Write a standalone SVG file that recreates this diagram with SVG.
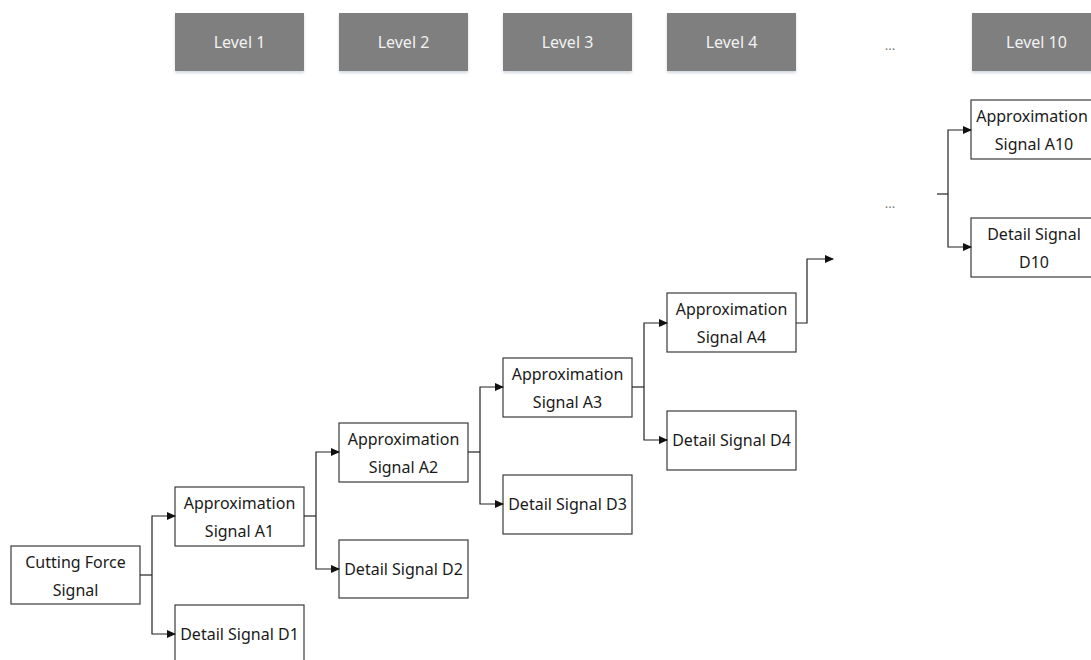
<svg xmlns="http://www.w3.org/2000/svg" width="1091" height="660" viewBox="0 0 1091 660">
<defs>
<marker id="ah" markerWidth="9" markerHeight="8" refX="8" refY="4" orient="auto" markerUnits="userSpaceOnUse"><path d="M0,0 L9,4 L0,8 Z" fill="#111"/></marker>
<filter id="sh" x="-10%" y="-10%" width="120%" height="130%"><feDropShadow dx="0" dy="2" stdDeviation="1.5" flood-color="#9ab" flood-opacity="0.45"/></filter>
<style>
.lv rect{fill:#7f7f7f;filter:url(#sh)}
.lv text{fill:#f2f2f2;font-family:"Noto Sans",sans-serif;font-size:16px;text-anchor:middle}
.nd rect{fill:#fff;stroke:#3a3a3a;stroke-width:1.2}
.nd text{fill:#1a1a1a;font-family:"Noto Sans",sans-serif;font-size:16px;text-anchor:middle}
.dots{fill:#777;font-family:"Noto Sans",sans-serif;font-size:13px;text-anchor:middle}
#connectors path{fill:none;stroke:#222;stroke-width:1.2}
</style>
</defs>
<rect width="1091" height="660" fill="#fff"/>
<g class="lv" id="level1"><rect x="175" y="13" width="129" height="58"/><text x="239.5" y="48">Level 1</text></g>
<g class="lv" id="level2"><rect x="339" y="13" width="129" height="58"/><text x="403.5" y="48">Level 2</text></g>
<g class="lv" id="level3"><rect x="503" y="13" width="129" height="58"/><text x="567.5" y="48">Level 3</text></g>
<g class="lv" id="level4"><rect x="667" y="13" width="129" height="58"/><text x="731.5" y="48">Level 4</text></g>
<g class="lv" id="level10"><rect x="972" y="13" width="129" height="58"/><text x="1036.5" y="48">Level 10</text></g>
<text class="dots" x="890" y="50">...</text>
<text class="dots" x="890" y="208">...</text>
<g class="nd" id="cfs"><rect x="11" y="546" width="129" height="58"/><text x="75.5" y="568">Cutting Force</text><text x="75.5" y="596">Signal</text></g>
<g class="nd" id="a1"><rect x="175" y="487" width="129" height="59"/><text x="239.5" y="509">Approximation</text><text x="239.5" y="537">Signal A1</text></g>
<g class="nd" id="d1"><rect x="175" y="605" width="129" height="70"/><text x="239.5" y="640">Detail Signal D1</text></g>
<g class="nd" id="a2"><rect x="339" y="423" width="129" height="59"/><text x="403.5" y="445">Approximation</text><text x="403.5" y="473">Signal A2</text></g>
<g class="nd" id="d2"><rect x="339" y="540" width="129" height="58"/><text x="403.5" y="575">Detail Signal D2</text></g>
<g class="nd" id="a3"><rect x="503" y="358" width="129" height="59"/><text x="567.5" y="380">Approximation</text><text x="567.5" y="408">Signal A3</text></g>
<g class="nd" id="d3"><rect x="503" y="475" width="129" height="59"/><text x="567.5" y="510">Detail Signal D3</text></g>
<g class="nd" id="a4"><rect x="667" y="293" width="129" height="59"/><text x="731.5" y="315">Approximation</text><text x="731.5" y="343">Signal A4</text></g>
<g class="nd" id="d4"><rect x="667" y="411" width="129" height="59"/><text x="731.5" y="446">Detail Signal D4</text></g>
<g class="nd" id="a10"><rect x="971" y="100" width="129" height="59"/><text x="1032" y="122">Approximation</text><text x="1034" y="150">Signal A10</text></g>
<g class="nd" id="d10"><rect x="971" y="218" width="129" height="59"/><text x="1034" y="240">Detail Signal</text><text x="1034" y="268">D10</text></g>
<g id="connectors">
<path d="M140,575 H152"/><path d="M152,575 V516 H175" marker-end="url(#ah)"/><path d="M152,575 V634 H175" marker-end="url(#ah)"/>
<path d="M304,516 H316"/><path d="M316,516 V452 H339" marker-end="url(#ah)"/><path d="M316,516 V569 H339" marker-end="url(#ah)"/>
<path d="M468,452 H480"/><path d="M480,452 V387 H503" marker-end="url(#ah)"/><path d="M480,452 V504 H503" marker-end="url(#ah)"/>
<path d="M632,387 H644"/><path d="M644,387 V323 H667" marker-end="url(#ah)"/><path d="M644,387 V440 H667" marker-end="url(#ah)"/>
<path d="M796,323 H807 V259 H833" marker-end="url(#ah)"/>
<path d="M937,194 H948"/><path d="M948,194 V130 H971" marker-end="url(#ah)"/><path d="M948,194 V247 H971" marker-end="url(#ah)"/>
</g>
</svg>
